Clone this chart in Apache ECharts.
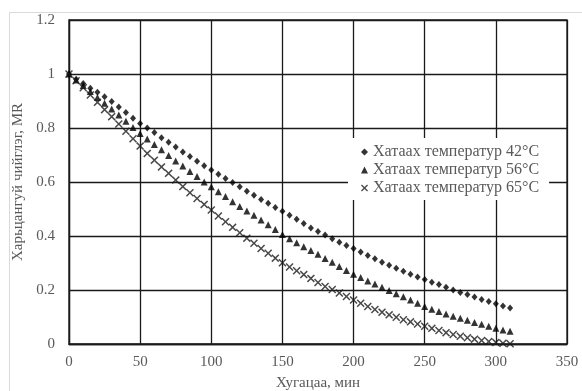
<!DOCTYPE html>
<html>
<head>
<meta charset="utf-8">
<script src="https://cdn.jsdelivr.net/npm/echarts@6/dist/echarts.min.js"></script>
<style>
html,body{margin:0;padding:0;background:#fff;}
#c{width:582px;height:391px;}
</style>
</head>
<body>
<div id="c"></div>
<script>
// Time, minutes (every 5 min from 0 to 310)
const times = [0,5,10,15,20,25,30,35,40,45,50,55,60,65,70,75,80,85,90,95,100,105,110,115,120,125,130,135,140,145,150,155,160,165,170,175,180,185,190,195,200,205,210,215,220,225,230,235,240,245,250,255,260,265,270,275,280,285,290,295,300,305,310];

const mr42 = [1.000,0.981,0.965,0.947,0.932,0.916,0.898,0.878,0.857,0.836,0.817,0.800,0.783,0.764,0.747,0.730,0.711,0.694,0.677,0.660,0.644,0.629,0.613,0.598,0.582,0.566,0.551,0.535,0.521,0.506,0.492,0.477,0.462,0.446,0.430,0.417,0.404,0.390,0.377,0.365,0.354,0.341,0.328,0.316,0.303,0.292,0.281,0.269,0.258,0.248,0.239,0.229,0.220,0.210,0.200,0.191,0.183,0.174,0.165,0.157,0.149,0.141,0.133];

const mr56 = [1.000,0.978,0.957,0.935,0.913,0.892,0.870,0.848,0.825,0.802,0.780,0.759,0.739,0.719,0.698,0.678,0.659,0.639,0.620,0.600,0.582,0.564,0.546,0.527,0.509,0.493,0.477,0.459,0.442,0.424,0.406,0.390,0.375,0.360,0.346,0.332,0.317,0.303,0.287,0.272,0.258,0.246,0.233,0.222,0.210,0.198,0.186,0.175,0.163,0.151,0.139,0.129,0.120,0.111,0.103,0.095,0.088,0.080,0.073,0.066,0.058,0.052,0.047];

const mr65 = [1.000,0.975,0.949,0.922,0.895,0.868,0.842,0.815,0.788,0.760,0.733,0.706,0.681,0.656,0.632,0.607,0.583,0.560,0.539,0.517,0.496,0.474,0.453,0.432,0.412,0.392,0.373,0.354,0.336,0.318,0.301,0.285,0.271,0.257,0.243,0.228,0.213,0.202,0.189,0.176,0.163,0.151,0.139,0.128,0.118,0.108,0.099,0.090,0.082,0.074,0.066,0.058,0.050,0.042,0.035,0.029,0.023,0.018,0.013,0.009,0.006,0.003,0.001];

const seriesNames = ['Хатаах температур 42°C','Хатаах температур 56°C','Хатаах температур 65°C'];
const xTitle = 'Хугацаа, мин';
const yTitle = 'Харьцангуй чийглэг, MR';

const FONT = '"Liberation Serif","Times New Roman",serif';
const crossPath = 'path://M0,1.3L1.3,0L5,3.7L8.7,0L10,1.3L6.3,5L10,8.7L8.7,10L5,6.3L1.3,10L0,8.7L3.7,5Z';

function pairs(vals){ return times.map((t,i)=>[t, vals[i]]); }

const chart = echarts.init(document.getElementById('c'), null, {renderer:'canvas'});
chart.setOption({
  animation:false,
  backgroundColor:'#fff',
  graphic:[{
    type:'rect', left:7, top:10, z:-1,
    shape:{width:600, height:420},
    style:{fill:'none', stroke:'#d9d9d9', lineWidth:1}
  }],
  grid:{left:69, right:15, top:20, bottom:47, containLabel:false, outerBoundsMode:'none',
        show:true, borderColor:'#1a1a1a', borderWidth:1.3, backgroundColor:'transparent'},
  legend:{
    orient:'vertical', left:348, top:138,
    backgroundColor:'#fff',
    padding:[6,10,4,13],
    itemWidth:7, itemHeight:7, itemGap:2,
    textStyle:{fontFamily:FONT, fontSize:16, color:'#595959', lineHeight:16},
    data:seriesNames
  },
  xAxis:{
    type:'value', min:0, max:350, interval:50,
    name:xTitle, nameLocation:'middle', nameGap:32,
    nameTextStyle:{fontFamily:FONT, fontSize:15, color:'#595959'},
    axisLine:{show:true, lineStyle:{color:'#1a1a1a', width:1.3}},
    axisTick:{show:false},
    axisLabel:{fontFamily:FONT, fontSize:15, color:'#595959', margin:11},
    splitLine:{show:true, lineStyle:{color:'#1a1a1a', width:1.3}}
  },
  yAxis:{
    type:'value', min:0, max:1.2, interval:0.2,
    name:yTitle, nameLocation:'middle', nameGap:40,
    nameTextStyle:{fontFamily:FONT, fontSize:15, color:'#595959'},
    axisLine:{show:true, lineStyle:{color:'#1a1a1a', width:1.3}},
    axisTick:{show:false},
    axisLabel:{fontFamily:FONT, fontSize:15, color:'#595959', margin:14},
    splitLine:{show:true, lineStyle:{color:'#1a1a1a', width:1.3}}
  },
  series:[
    {name:seriesNames[0], type:'scatter', symbol:'diamond', symbolSize:[6,7], itemStyle:{color:'#000'}, data:pairs(mr42)},
    {name:seriesNames[1], type:'scatter', symbol:'triangle', symbolSize:7, itemStyle:{color:'#000'}, data:pairs(mr56)},
    {name:seriesNames[2], type:'scatter', symbol:crossPath, symbolSize:8, itemStyle:{color:'#1a1a1a'}, data:pairs(mr65)}
  ]
});
</script>
</body>
</html>
